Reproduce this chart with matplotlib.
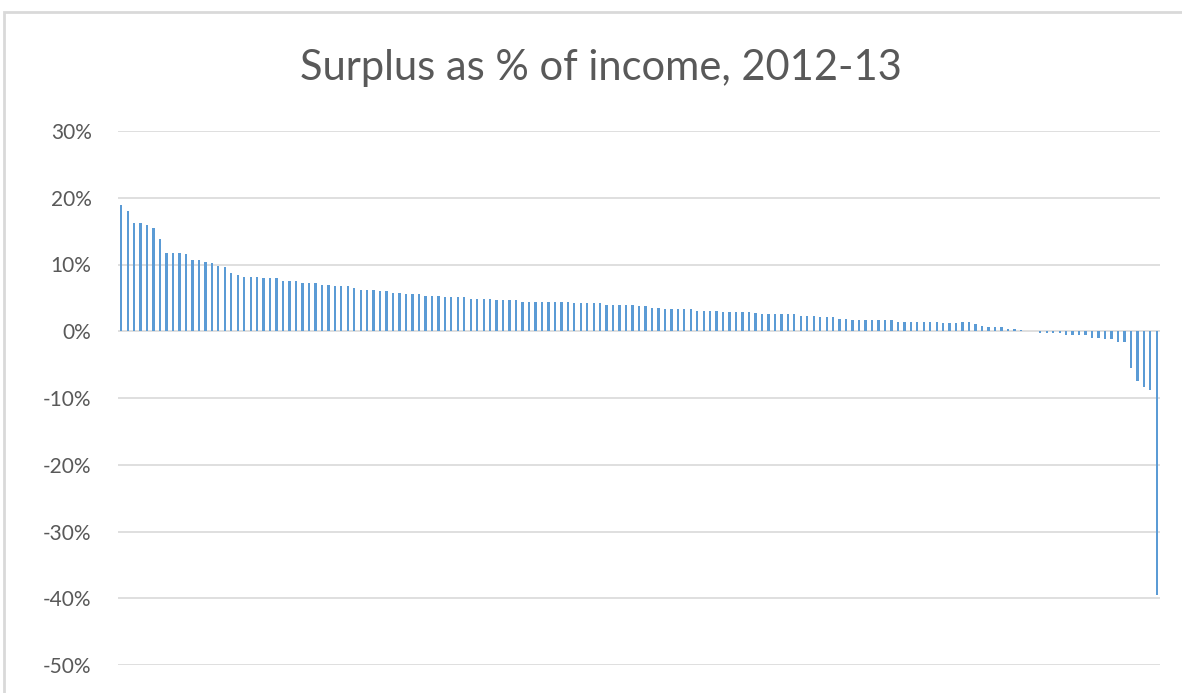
import numpy as np
import matplotlib
matplotlib.use("Agg")
from matplotlib import pyplot as plt
from matplotlib.patches import Rectangle
from matplotlib.ticker import FuncFormatter

# surplus as % of income, one value per organisation, sorted high to low
surplus_pct = (
    [18.9, 18.0, 16.2, 16.2, 15.9, 15.5, 13.8, 11.7, 11.7, 11.7, 11.5,
     10.6, 10.6, 10.4, 10.2, 9.8, 9.6, 8.7, 8.5, 8.2, 8.2, 8.2,
     8.0, 8.0, 8.0, 7.6, 7.6, 7.6, 7.3, 7.3, 7.3, 7.0, 7.0]
    + [6.74] * 3 + [6.49] + [6.24] * 3 + [6.04] * 2 + [5.79] * 2
    + [5.59] * 3 + [5.34] * 3 + [5.09] * 4 + [4.89] * 4 + [4.64] * 4
    + [4.44] * 3
    + [4.39] * 5 + [4.24] * 5 + [3.99] * 5 + [3.74] * 2 + [3.54] * 2
    + [3.29] * 5 + [3.09] * 4 + [2.84] * 5
    + [2.79] + [2.6] * 6 + [2.35] * 3 + [2.15] * 3 + [1.9] * 2
    + [1.65] * 7 + [1.45] * 7 + [1.25] * 3
    + [1.32, 1.32, 1.07, 0.82, 0.57, 0.57, 0.57, 0.37, 0.3, 0.12, 0.1, 0.08]
    + [-0.25] * 4 + [-0.5] * 4 + [-0.95] * 2 + [-1.2] * 2 + [-1.64] * 2
    + [-5.47, -7.46, -8.3, -8.8, -39.5]
)
y_ticks = [30, 20, 10, 0, -10, -20, -30, -40, -50]
title = "Surplus as % of income, 2012-13"

W, H = 1182, 693
fig = plt.figure(figsize=(W / 100, H / 100), dpi=100)
fig.patch.set_facecolor("white")

# chart area border (cropped on the right and bottom)
fig.patches.append(Rectangle((4 / W, -0.1), 1.2, 1 - 12 / H + 0.1,
                             transform=fig.transFigure, fill=False,
                             edgecolor="#D9D9D9", linewidth=2))

ax = fig.add_axes([118 / W, 1 - 665 / H, (1160 - 118) / W, (665 - 131) / H])
x = np.arange(len(surplus_pct))
ax.bar(x, surplus_pct, width=0.36, color="#5B9BD5", zorder=3)

ax.set_xlim(-0.5, len(surplus_pct) - 0.5)
ax.set_ylim(-50, 30)
ax.set_yticks(y_ticks)
ax.yaxis.set_major_formatter(FuncFormatter(lambda v, p: f"{v:.0f}%"))
ax.set_xticks([])
ax.grid(axis="y", color="#D9D9D9", linewidth=1.2, zorder=0)
for s in ax.spines.values():
    s.set_visible(False)
ax.tick_params(axis="y", length=0, pad=19, labelsize=15, labelcolor="#595959")
for lab in ax.get_yticklabels():
    lab.set_family("Lato")

fig.text(601 / W, 1 - 68 / H, title, ha="center", va="center",
         fontsize=30, color="#595959", family="Lato")

fig.savefig("out.png", dpi=100)
